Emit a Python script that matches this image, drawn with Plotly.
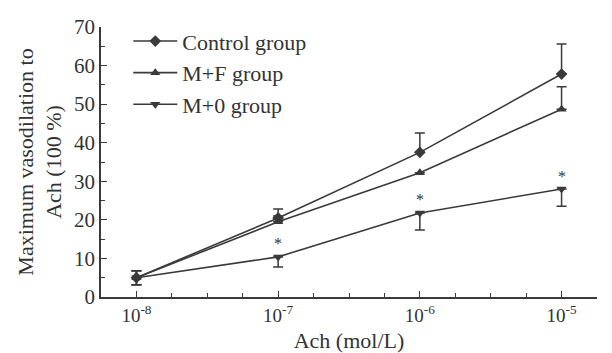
import plotly.graph_objects as go

x_exp = [-8, -7, -6, -5]
tick_labels = ["10<sup>-8</sup>", "10<sup>-7</sup>", "10<sup>-6</sup>", "10<sup>-5</sup>"]

control = [5.0, 20.5, 37.5, 57.8]
control_err_up = [1.8, 2.3, 5.0, 7.8]
control_err_dn = [1.8, 0, 0, 0]
mf = [5.0, 19.5, 32.2, 48.7]
mf_err_up = [1.8, 1.5, 0, 5.8]
mf_err_dn = [1.8, 0, 0, 0]
m0 = [5.0, 10.4, 21.8, 28.0]
m0_err_up = [1.8, 0, 0, 0]
m0_err_dn = [1.8, 2.6, 4.4, 4.5]
sig = [False, True, True, True]

col = "#3a3a3a"
txt = "#333"
font = "Liberation Serif"

fig = go.Figure()
series = [
    ("Control group", control, control_err_up, control_err_dn, "diamond"),
    ("M+F group", mf, mf_err_up, mf_err_dn, "triangle-up"),
    ("M+0 group", m0, m0_err_up, m0_err_dn, "triangle-down"),
]
for i, (name, ys, eu, ed, sym) in enumerate(series):
    fig.add_trace(go.Scatter(
        x=x_exp, y=ys, name=name, mode="lines+markers",
        line=dict(color=col, width=1.6),
        marker=dict(symbol=sym, size=9, color=col),
        error_y=dict(type="data", symmetric=False, array=eu, arrayminus=ed,
                     visible=True, color=col, thickness=1.5, width=5),
        legendgroup=f"g{i}",
    ))

for xe, y, s in zip(x_exp, m0, sig):
    if s:
        fig.add_annotation(x=xe, y=y, text="*", showarrow=False, yshift=13,
                           font=dict(family=font, size=16, color="#333333"))

fig.update_layout(
    width=604, height=345,
    margin=dict(l=93, r=15, t=13, b=56),
    paper_bgcolor="white", plot_bgcolor="white",
    font=dict(family=font, size=20, color=txt),
    showlegend=True,
    legend=dict(x=0.055, y=1.025, xanchor="left", yanchor="top",
                font=dict(family=font, size=22, color=txt),
                bgcolor="rgba(0,0,0,0)", tracegroupgap=0, itemwidth=44),
    xaxis=dict(range=[-8.25, -4.75], tickvals=x_exp, ticktext=tick_labels,
               ticks="inside", ticklen=6, tickcolor=col, showline=True, linecolor=col,
               linewidth=1.5, showgrid=False, zeroline=False, automargin=False,
               minor=dict(dtick=0.25, tick0=-8, ticks="inside", ticklen=4, tickcolor=col),
               title=dict(text="Ach (mol/L)", font=dict(family=font, size=22, color=txt), standoff=9),
               tickfont=dict(family=font, size=19, color=txt)),
    yaxis=dict(range=[0, 70], dtick=10, ticks="inside", ticklen=6, tickcolor=col,
               showline=True, linecolor=col, linewidth=1.5, showgrid=False, zeroline=False,
               automargin=False,
               minor=dict(dtick=5, ticks="inside", ticklen=4, tickcolor=col),
               title=dict(text="Maximum vasodilation to<br>Ach (100 %)",
                          font=dict(family=font, size=22, color=txt), standoff=6),
               tickfont=dict(family=font, size=21, color=txt)),
)

fig.write_html("out.html")
